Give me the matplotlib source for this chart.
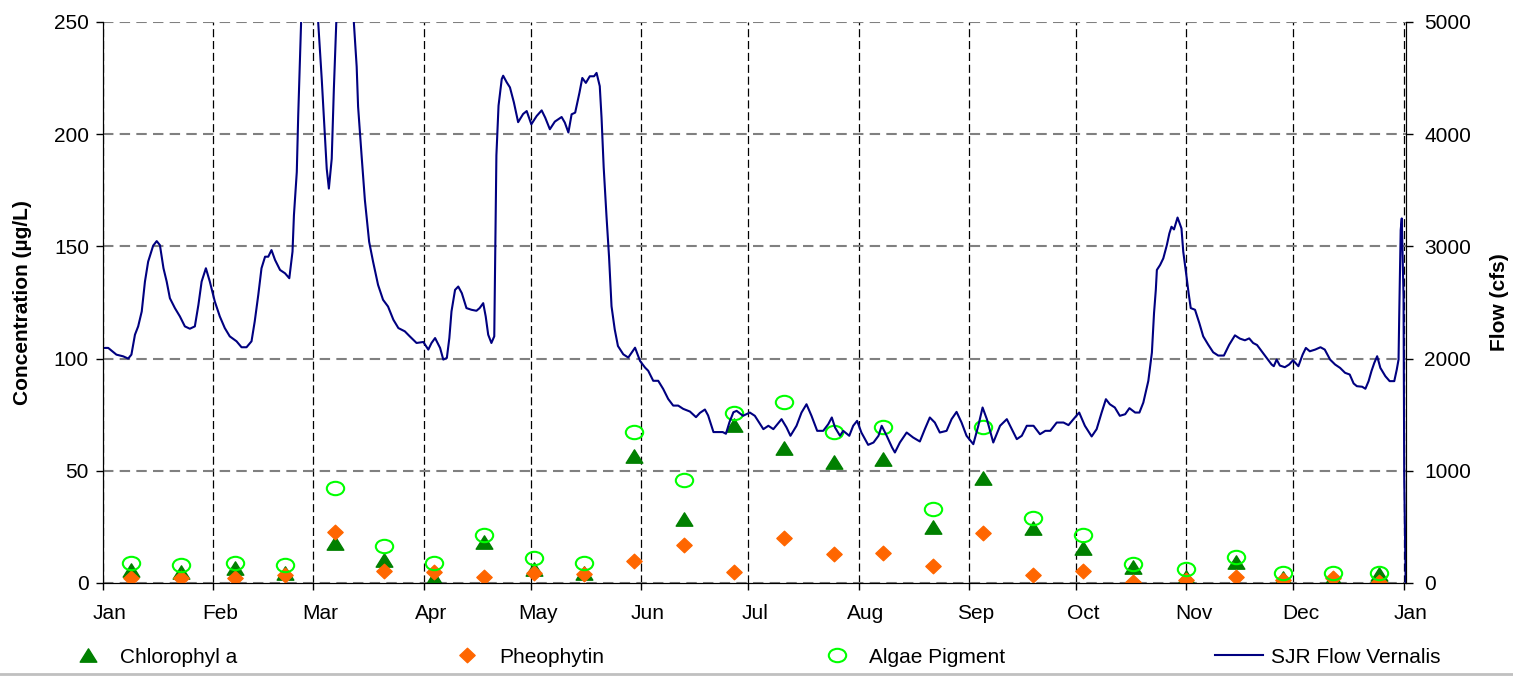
import numpy as np
import matplotlib
matplotlib.use('Agg')
import matplotlib.pyplot as plt
from matplotlib.path import Path
from matplotlib.transforms import Affine2D, ScaledTranslation
from matplotlib.lines import Line2D

plt.rcParams['font.family'] = ['Liberation Sans', 'DejaVu Sans']

# x axis: days since Jan 1, month starts for ticks
month_starts = [0, 31, 59, 90, 120, 151, 181, 212, 243, 273, 304, 334, 365]
month_labels = ['Jan', 'Feb', 'Mar', 'Apr', 'May', 'Jun', 'Jul', 'Aug',
                'Sep', 'Oct', 'Nov', 'Dec', 'Jan']

# biweekly grab samples (ug/L)
sample_day = [8, 22, 37, 51, 65, 79, 93, 107, 121, 135, 149, 163, 177, 191,
              205, 219, 233, 247, 261, 275, 289, 304, 318, 331, 345, 358]
chlorophyll = [5.8, 5.0, 6.5, 4.3, 17.7, 10.2, 2.4, 18.1, 6.1, 4.6, 56.7, 28.4,
               70.4, 60.0, 53.8, 55.3, 25.1, 46.6, 24.7, 15.5, 7.3, 2.8, 9.2,
               2.1, 2.1, 4.0]
pheophytin = [2.1, 2.1, 2.1, 3.6, 22.6, 5.5, 4.7, 2.8, 4.3, 4.0, 9.8, 16.9,
              4.7, 19.9, 12.8, 13.5, 7.7, 22.1, 3.6, 5.5, 0.3, 1.3, 2.8, 1.3,
              2.1, 0.6]
algae_pigment = [8.8, 8.0, 8.8, 8.0, 42.2, 16.6, 8.8, 21.4, 11.0, 8.8, 67.1,
                 45.9, 75.6, 80.8, 67.1, 69.4, 33.0, 69.4, 28.8, 21.4, 8.5,
                 6.1, 11.4, 4.6, 4.6, 4.6]

# SJR flow at Vernalis (cfs)
flow_day = [0, 1.5, 3.8, 5.7, 7.1, 8.0, 9.0, 9.9, 10.9, 11.8, 12.7, 14.1, 15.1,
            16.0, 17.0, 17.9, 18.8, 20.2, 21.6, 23.0, 24.4, 25.8, 26.8, 27.7,
            28.9, 30.0, 31.4, 32.8, 34.2, 35.6, 37.5, 38.9, 40.3, 41.7, 42.6,
            43.6, 44.5, 45.5, 46.4, 47.3, 48.3, 49.7, 51.1, 52.3, 53.2, 53.6,
            54.4, 54.8, 55.3, 55.8, 57.5, 59.5, 60.4, 61.4, 62.3, 62.8, 63.4,
            64.2, 64.8, 65.6, 68.0, 70.2, 71.2, 71.6, 72.6, 73.5, 74.7, 75.8,
            77.2, 78.6, 80.0, 81.5, 82.9, 84.7, 86.1, 88.0, 89.9, 91.3, 92.2,
            93.2, 94.6, 95.5, 96.5, 97.2, 97.8, 98.8, 99.7, 100.7, 102.0,
            103.4, 104.8, 105.7, 106.7, 107.4, 108.1, 109.0, 109.8, 110.1,
            110.4, 111.0, 111.9, 112.3, 113.3, 114.2, 115.3, 116.5, 117.9,
            118.9, 120.2, 121.7, 123.1, 124.1, 125.4, 126.8, 128.7, 129.6,
            130.6, 131.5, 132.5, 133.7, 134.5, 135.5, 136.6, 137.8, 138.5,
            139.4, 139.9, 140.5, 141.3, 142.0, 142.7, 143.6, 144.5, 146.0,
            147.4, 149.3, 150.7, 152.1, 153.0, 154.4, 155.8, 157.2, 158.6,
            160.0, 161.4, 162.8, 164.7, 166.4, 167.5, 168.9, 169.8, 171.3,
            172.7, 173.9, 174.8, 175.8, 176.9, 177.8, 179.6, 181.5, 182.9,
            185.3, 186.7, 188.1, 190.4, 191.8, 192.9, 194.6, 196.0, 197.4,
            198.8, 200.4, 202.1, 203.5, 204.5, 205.4, 206.8, 207.7, 209.4,
            210.5, 211.6, 212.8, 214.7, 216.2, 217.6, 218.5, 219.9, 221.4,
            222.2, 223.6, 225.5, 227.3, 229.2, 230.6, 232.0, 233.4, 234.8,
            236.7, 238.1, 239.5, 240.9, 242.3, 244.2, 245.6, 246.8, 248.0,
            249.8, 251.7, 253.6, 255.0, 256.4, 257.8, 259.2, 261.1, 262.9,
            264.4, 265.8, 267.6, 269.5, 270.9, 272.3, 273.9, 275.5, 277.4,
            278.8, 280.2, 281.4, 282.5, 283.9, 285.3, 286.8, 288.0, 289.6,
            290.8, 291.9, 293.3, 294.3, 294.9, 295.4, 295.7, 296.6, 297.5,
            298.5, 299.2, 299.8, 300.5, 301.5, 302.6, 303.1, 303.9, 304.6,
            305.2, 306.4, 307.6, 308.7, 310.1, 311.5, 312.9, 314.5, 316.0,
            317.6, 319.0, 320.4, 321.6, 322.7, 323.8, 325.1, 326.5, 327.9,
            328.5, 329.3, 330.2, 331.6, 332.8, 333.9, 335.4, 336.6, 337.5,
            338.6, 340.1, 341.6, 342.8, 344.3, 345.7, 347.1, 348.5, 349.8,
            350.9, 351.8, 353.3, 354.2, 355.1, 355.9, 356.7, 357.5, 358.4,
            359.8, 361.0, 362.3, 363.0, 363.5, 363.7, 364.1, 364.4, 364.9,
            365.1, 365.5]
flow_cfs = [2095, 2095, 2035, 2020, 2000, 2035, 2213, 2287, 2420, 2686, 2864,
            3006, 3047, 3011, 2805, 2686, 2538, 2450, 2376, 2287, 2266, 2287,
            2479, 2686, 2805, 2686, 2509, 2376, 2272, 2198, 2154, 2101, 2101,
            2154, 2331, 2568, 2805, 2908, 2908, 2967, 2879, 2790, 2760, 2716,
            2953, 3278, 3663, 4166, 4669, 5200, 5800, 5300, 5000, 4491, 3988,
            3692, 3515, 3781, 4402, 5100, 5900, 5100, 4602, 4245, 3800, 3414,
            3041, 2864, 2657, 2524, 2464, 2346, 2272, 2243, 2198, 2139, 2148,
            2080, 2139, 2183, 2095, 1991, 2006, 2183, 2420, 2612, 2642, 2583,
            2450, 2435, 2426, 2450, 2494, 2376, 2213, 2139, 2198, 2982, 3811,
            4254, 4491, 4521, 4462, 4417, 4284, 4107, 4180, 4206, 4088, 4162,
            4212, 4147, 4044, 4112, 4153, 4103, 4015, 4177, 4192, 4369, 4501,
            4457, 4516, 4516, 4546, 4428, 4147, 3705, 3263, 2909, 2466, 2260,
            2112, 2038, 2009, 2097, 1979, 1920, 1891, 1802, 1802, 1729, 1640,
            1581, 1581, 1552, 1528, 1478, 1516, 1546, 1493, 1345, 1345, 1345,
            1330, 1434, 1522, 1534, 1490, 1519, 1490, 1371, 1401, 1371, 1460,
            1386, 1312, 1401, 1519, 1593, 1490, 1356, 1356, 1415, 1475, 1386,
            1312, 1356, 1312, 1401, 1445, 1341, 1231, 1252, 1312, 1401, 1312,
            1208, 1163, 1252, 1341, 1297, 1261, 1371, 1475, 1430, 1341, 1356,
            1460, 1525, 1430, 1312, 1237, 1401, 1564, 1460, 1252, 1401, 1460,
            1371, 1282, 1312, 1401, 1401, 1326, 1356, 1356, 1430, 1430, 1407,
            1460, 1519, 1401, 1306, 1371, 1519, 1638, 1593, 1564, 1490, 1504,
            1558, 1519, 1519, 1608, 1801, 2053, 2405, 2612, 2790, 2834, 2893,
            3012, 3115, 3175, 3151, 3257, 3160, 2953, 2760, 2583, 2450, 2435,
            2317, 2198, 2124, 2056, 2027, 2027, 2124, 2207, 2178, 2163, 2180,
            2139, 2121, 2065, 2006, 1947, 1932, 1991, 1938, 1923, 1947, 1985,
            1932, 2036, 2095, 2065, 2080, 2101, 2080, 1991, 1947, 1917, 1873,
            1858, 1778, 1754, 1749, 1731, 1799, 1888, 1962, 2021, 1917, 1843,
            1799, 1799, 1902, 1991, 2405, 3145, 3249, 2553, 926, 0]

# marker shapes (the original chart is drawn a little wider than tall)
tri_marker = Path([(0, 0.8), (-1, -0.8), (1, -0.8), (0, 0.8)],
                  [Path.MOVETO, Path.LINETO, Path.LINETO, Path.CLOSEPOLY])
dia_marker = Path([(0, 0.95), (1, 0), (0, -0.95), (-1, 0), (0, 0.95)],
                  [Path.MOVETO, Path.LINETO, Path.LINETO, Path.LINETO, Path.CLOSEPOLY])
ell_marker = Path.unit_circle().transformed(Affine2D().scale(1.0, 0.77))

FS = 15

fig = plt.figure(figsize=(15.13, 6.76), dpi=100)
ax = fig.add_axes([0.068, 0.1376, 0.8613, 0.8299])
ax2 = ax.twinx()

ax.plot(sample_day, chlorophyll, linestyle='none', marker=tri_marker,
        ms=12, color='#008000', label='Chlorophyl a', zorder=3)
ax.plot(sample_day, pheophytin, linestyle='none', marker=dia_marker,
        ms=11, color='#FF6600', label='Pheophytin', zorder=4)
ax.plot(sample_day, algae_pigment, linestyle='none', marker=ell_marker,
        ms=12.5, mfc='none', mec='#00FF00', mew=1.5, label='Algae Pigment', zorder=5)
ax2.plot(flow_day, flow_cfs, color='#000080', lw=1.5, label='SJR Flow Vernalis')

ax.set_xlim(0, 365.6)
ax.set_ylim(0, 250)
ax2.set_ylim(0, 5000)
ax.set_xticks(month_starts)
ax.set_xticklabels(month_labels)
ax.set_yticks(np.arange(0, 251, 50))
ax2.set_yticks(np.arange(0, 5001, 1000))

ax.yaxis.grid(True, color='#808080', linestyle=(0, (5, 3)), lw=1.5)
ax.xaxis.grid(True, color='black', linestyle=(0, (6.5, 3)), lw=0.9)
ax.set_axisbelow(True)

for a in (ax, ax2):
    a.spines['top'].set_visible(False)
    a.tick_params(direction='out', length=5, width=1, labelsize=FS, colors='black')
ax.tick_params(axis='x', pad=10)
ax.tick_params(axis='y', pad=5)
ax2.tick_params(axis='y', pad=8)

# month names sit a little right of their tick in the original
shift = ScaledTranslation(0.07, 0, fig.dpi_scale_trans)
for lbl in ax.get_xticklabels():
    lbl.set_transform(lbl.get_transform() + shift)

ax.set_ylabel('Concentration (\u00b5g/L)', fontsize=FS, fontweight='bold', labelpad=16)
ax2.set_ylabel('Flow (cfs)', fontsize=FS, fontweight='bold', labelpad=14)

# legend entries spread across the bottom like the original
handles = ax.get_lines() + ax2.get_lines()
anchors = [0.0423, 0.2928, 0.5373, 0.803]
for h, xa in zip(handles, anchors):
    fig.legend([h], [h.get_label()], loc='center left', bbox_to_anchor=(xa, 0.028),
               frameon=False, fontsize=FS, borderpad=0, borderaxespad=0,
               handlelength=2.3, handletextpad=0.4)

fig.add_artist(Line2D([0, 1], [0.003, 0.003], color='#c0c0c0', lw=2))

fig.savefig('out.png', dpi=100)
